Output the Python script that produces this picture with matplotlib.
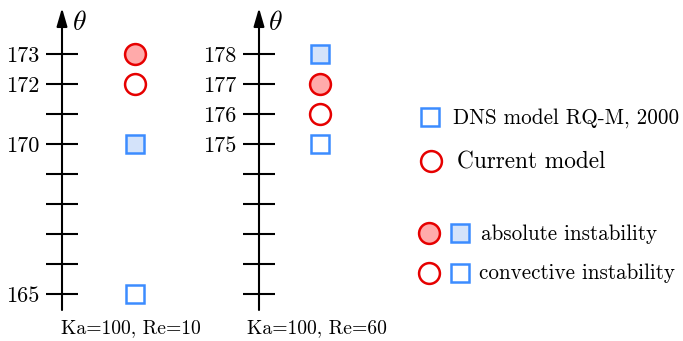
import matplotlib.pyplot as plt

plt.rcParams['font.family'] = 'cmr10'
plt.rcParams['mathtext.fontset'] = 'cm'
plt.rcParams['axes.formatter.use_mathtext'] = True

# 数据
left_ticks = [165, 166, 167, 168, 169, 170, 171, 172, 173]
left_labels = ['165', '', '', '', '', '170', '', '172', '173']
right_ticks = [170, 171, 172, 173, 174, 175, 176, 177, 178]
right_labels = ['', '', '', '', '', '175', '176', '177', '178']

left_abs_circle = [173]
left_conv_circle = [172]
left_abs_square = [170]
left_conv_square = [165]

right_abs_circle = [177]
right_conv_circle = [176]
right_abs_square = [178]
right_conv_square = [175]

case_names = ['Ka=100, Re=10', 'Ka=100, Re=60']

red = '#e60000'
red_fill = '#ffaaaa'
blue = '#3c8cff'
blue_fill = '#d4e3fa'

W, H = 683, 341
fig = plt.figure(figsize=(W / 100, H / 100), dpi=100)


def px_axes(x0, y_top, w, h):
    return fig.add_axes([x0 / W, 1 - (y_top + h) / H, w / W, h / H])


def make_column(ax, ticks, labels, y0, abs_c, conv_c, abs_s, conv_s, name):
    ax.set_xlim(0, 2)
    ax.set_ylim(y0 - 16 / 30, y0 + 8 + 46 / 30)
    for s in ax.spines.values():
        s.set_visible(False)
    ax.set_xticks([])
    ax.set_yticks(ticks)
    ax.set_yticklabels(labels)
    ax.tick_params(axis='y', direction='inout', length=23, width=1.5,
                   labelsize=16, pad=5)
    ax.patch.set_alpha(0)
    ylo, yhi = ax.get_ylim()
    ax.annotate('', xy=(0, yhi), xytext=(0, ylo),
                arrowprops=dict(arrowstyle='-|>,head_length=0.55,head_width=0.16',
                                lw=1.5, color='black',
                                mutation_scale=20, shrinkA=0, shrinkB=0),
                annotation_clip=False)
    ax.text(0.14, yhi - 0.05, r'$\theta$', fontsize=20, va='top', ha='left')
    kw = dict(markeredgewidth=1.8, linestyle='none', clip_on=False)
    ax.plot([1] * len(abs_c), abs_c, 'o', ms=15, mec=red, mfc=red_fill, **kw)
    ax.plot([1] * len(conv_c), conv_c, 'o', ms=15, mec=red, mfc='white', **kw)
    ax.plot([1] * len(abs_s), abs_s, 's', ms=13.5, mec=blue, mfc=blue_fill, **kw)
    ax.plot([1] * len(conv_s), conv_s, 's', ms=13.5, mec=blue, mfc='white', **kw)
    ax.text(0.95, ylo - 0.62, name, fontsize=14.2, ha='center', va='center')


ax1 = px_axes(62, 8, 146, 302)
make_column(ax1, left_ticks, left_labels, 165, left_abs_circle,
            left_conv_circle, left_abs_square, left_conv_square, case_names[0])

ax2 = px_axes(259, 8, 122, 302)
make_column(ax2, right_ticks, right_labels, 170, right_abs_circle,
            right_conv_circle, right_abs_square, right_conv_square, case_names[1])

# 图例
leg = fig.add_axes([0, 0, 1, 1])
leg.set_xlim(0, W)
leg.set_ylim(H, 0)
leg.axis('off')
kw = dict(markeredgewidth=1.8, linestyle='none')
leg.plot([430], [117], 's', ms=13.5, mec=blue, mfc='white', **kw)
leg.text(453, 118, 'DNS model RQ-M, 2000', fontsize=15.2, va='center')
leg.plot([431], [161], 'o', ms=15, mec=red, mfc='white', **kw)
leg.text(457, 162, 'Current model', fontsize=16.8, va='center')
leg.plot([429], [233], 'o', ms=15, mec=red, mfc=red_fill, **kw)
leg.plot([460], [233], 's', ms=13.5, mec=blue, mfc=blue_fill, **kw)
leg.text(481, 234, 'absolute instability', fontsize=15.2, va='center')
leg.plot([429], [273], 'o', ms=15, mec=red, mfc='white', **kw)
leg.plot([460], [273], 's', ms=13.5, mec=blue, mfc='white', **kw)
leg.text(479, 273, 'convective instability', fontsize=15.2, va='center')

plt.savefig('out.png', dpi=100)
